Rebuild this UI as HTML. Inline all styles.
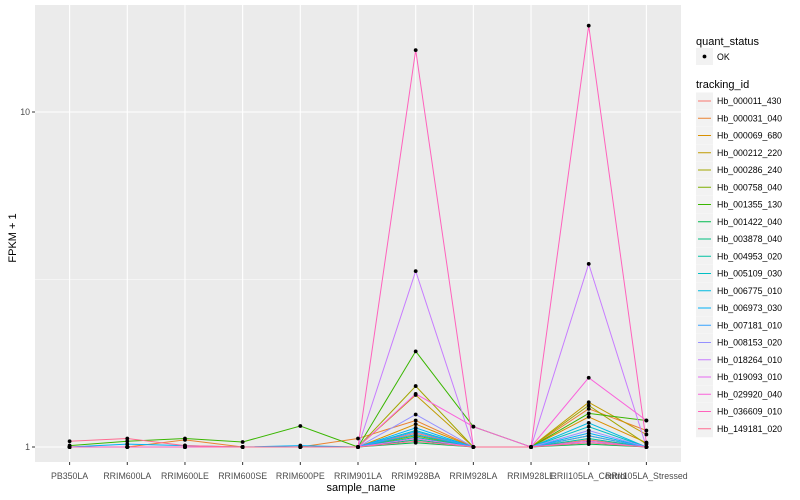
<!DOCTYPE html>
<html><head><meta charset="utf-8"><style>
body{margin:0;background:#fff;}
svg{display:block;font-family:"Liberation Sans",sans-serif;}
</style></head><body>
<svg id="chart" width="800" height="500">
<rect x="35" y="5" width="646" height="457" fill="#ebebeb"/>
<g id="grid"></g><g id="lines"></g><g id="points"></g><g id="axes"></g><g id="legend"></g>
<text x="361" y="491" font-size="11" text-anchor="middle" fill="#000">sample_name</text>
<text x="16" y="238" font-size="11" text-anchor="middle" fill="#000" transform="rotate(-90 16 238)">FPKM + 1</text>
</svg>
<script>
const categories=["PB350LA","RRIM600LA","RRIM600LE","RRIM600SE","RRIM600PE","RRIM901LA","RRIM928BA","RRIM928LA","RRIM928LE","RRII105LA_Control","RRII105LA_Stressed"];
const seriesNames=["Hb_000011_430","Hb_000031_040","Hb_000069_680","Hb_000212_220","Hb_000286_240","Hb_000758_040","Hb_001355_130","Hb_001422_040","Hb_003878_040","Hb_004953_020","Hb_005109_030","Hb_006775_010","Hb_006973_030","Hb_007181_010","Hb_008153_020","Hb_018264_010","Hb_019093_010","Hb_029920_040","Hb_036609_010","Hb_149181_020"];
const colors=["#F8766D","#EA8331","#D89000","#C09B00","#A3A500","#7CAE00","#39B600","#00BB4E","#00BF7D","#00C1A3","#00BFC4","#00BAE0","#00B0F6","#35A2FF","#9590FF","#C77CFF","#E76BF3","#FA62DB","#FF62BC","#FF6C91"];
const s0=[1,1,1,1,1,1,1.10,1,1,1.05,1];
const s1=[1,1,1.05,1,1,1.06,1.20,1,1,1.30,1.12];
const s2=[1,1,1,1,1,1,1.17,1,1,1.23,1.03];
const s3=[1,1,1,1,1,1,1.43,1,1,1.36,1.09];
const s4=[1,1,1,1,1,1,1.52,1,1,1.33,1.02];
const s5=[1,1,1,1,1,1,1.08,1,1,1.08,1];
const s6=[1.01,1.04,1.06,1.035,1.155,1,1.93,1.15,1,1.26,1.20];
const s7=[1,1,1,1,1,1,1.03,1,1,1.02,1];
const s8=[1,1,1,1,1,1,1.05,1,1,1.04,1];
const s9=[1,1,1,1,1,1,1.07,1,1,1.06,1];
const s10=[1,1,1,1,1,1,1.12,1,1,1.15,1];
const s11=[1,1,1,1,1,1,1.09,1,1,1.18,1];
const s12=[1,1.02,1.01,1,1.01,1,1.14,1,1,1.10,1];
const s13=[1,1,1,1,1,1,1.11,1,1,1.08,1];
const s14=[1,1,1,1,1,1,1.25,1,1,1.12,1];
const s15=[1,1,1,1,1,1,3.35,1,1,3.52,1];
const s16=[1,1,1,1,1,1,1.06,1,1,1.04,1];
const s17=[1,1,1,1,1,1,1.44,1.15,1,1.61,1.20];
const s18=[1,1,1,1,1,1,15.3,1,1,18.1,1.03];
const s19=[1.04,1.06,1.01,1,1,1,1.04,1,1,1.03,1];
const series=[s0,s1,s2,s3,s4,s5,s6,s7,s8,s9,s10,s11,s12,s13,s14,s15,s16,s17,s18,s19];
const yTicks=[1,10];
const yMinor=[Math.sqrt(10),Math.sqrt(1000)];
const NS="http://www.w3.org/2000/svg";
const pLeft=35,pRight=681,pTop=5,pBottom=462;
const step=(pRight-pLeft)/(categories.length-1+1.2);
function xs(i){return pLeft+step*(0.6+i);}
function ys(v){return 447-335*Math.log10(v);}
function mk(tag,attrs,parent){const e=document.createElementNS(NS,tag);for(const k in attrs)e.setAttribute(k,attrs[k]);parent.appendChild(e);return e;}
const grid=document.getElementById('grid'),lines=document.getElementById('lines'),pts=document.getElementById('points'),axes=document.getElementById('axes'),leg=document.getElementById('legend');
yMinor.forEach(v=>{const y=ys(v);if(y>pTop&&y<pBottom){const l=mk('line',{x1:pLeft,x2:pRight,y1:y,y2:y,stroke:'#fff','stroke-width':0.5},grid);

}});
yTicks.forEach(v=>{const y=ys(v);const l=mk('line',{x1:pLeft,x2:pRight,y1:y,y2:y,stroke:'#fff','stroke-width':1.1},grid);


mk('line',{x1:pLeft-3,x2:pLeft,y1:y,y2:y,stroke:'#333'},axes);
const t=mk('text',{x:pLeft-5,y:y+3,'font-size':8.8,'text-anchor':'end',fill:'#4d4d4d'},axes);t.textContent=v;

});
categories.forEach((c,i)=>{const x=xs(i);const l=mk('line',{x1:x,x2:x,y1:pTop,y2:pBottom,stroke:'#fff','stroke-width':1.1},grid);


mk('line',{x1:x,x2:x,y1:pBottom,y2:pBottom+3,stroke:'#333'},axes);
const t=mk('text',{x:x,y:479,'font-size':8.8,'text-anchor':'middle',fill:'#4d4d4d'},axes);t.textContent=c;

});
series.forEach((s,k)=>{const d=s.map((v,i)=>(i?'L':'M')+xs(i).toFixed(1)+','+ys(v).toFixed(1)).join(' ');
const p=mk('path',{d:d,fill:'none',stroke:colors[k],'stroke-width':1},lines);


s.forEach((v,i)=>{const c=mk('circle',{cx:xs(i),cy:ys(v),r:1.9,fill:'#000'},pts);

});});
let t=mk('text',{x:696,y:45,'font-size':11,fill:'#000'},leg);t.textContent='quant_status';


mk('rect',{x:696,y:48,width:17,height:17,fill:'#f2f2f2'},leg);
mk('circle',{cx:704.5,cy:56.5,r:1.9,fill:'#000'},leg);
t=mk('text',{x:717,y:60,'font-size':8.8,fill:'#000'},leg);t.textContent='OK';


t=mk('text',{x:696,y:88,'font-size':11,fill:'#000'},leg);t.textContent='tracking_id';


seriesNames.forEach((n,k)=>{const cy=101+k*17.25;
mk('rect',{x:696,y:cy-8.5,width:17,height:17,fill:'#f2f2f2'},leg);
mk('line',{x1:698,x2:711,y1:cy,y2:cy,stroke:colors[k],'stroke-width':1},leg);
const e=mk('text',{x:717,y:cy+3,'font-size':8.8,fill:'#000'},leg);e.textContent=n;

});
</script>
</body></html>
